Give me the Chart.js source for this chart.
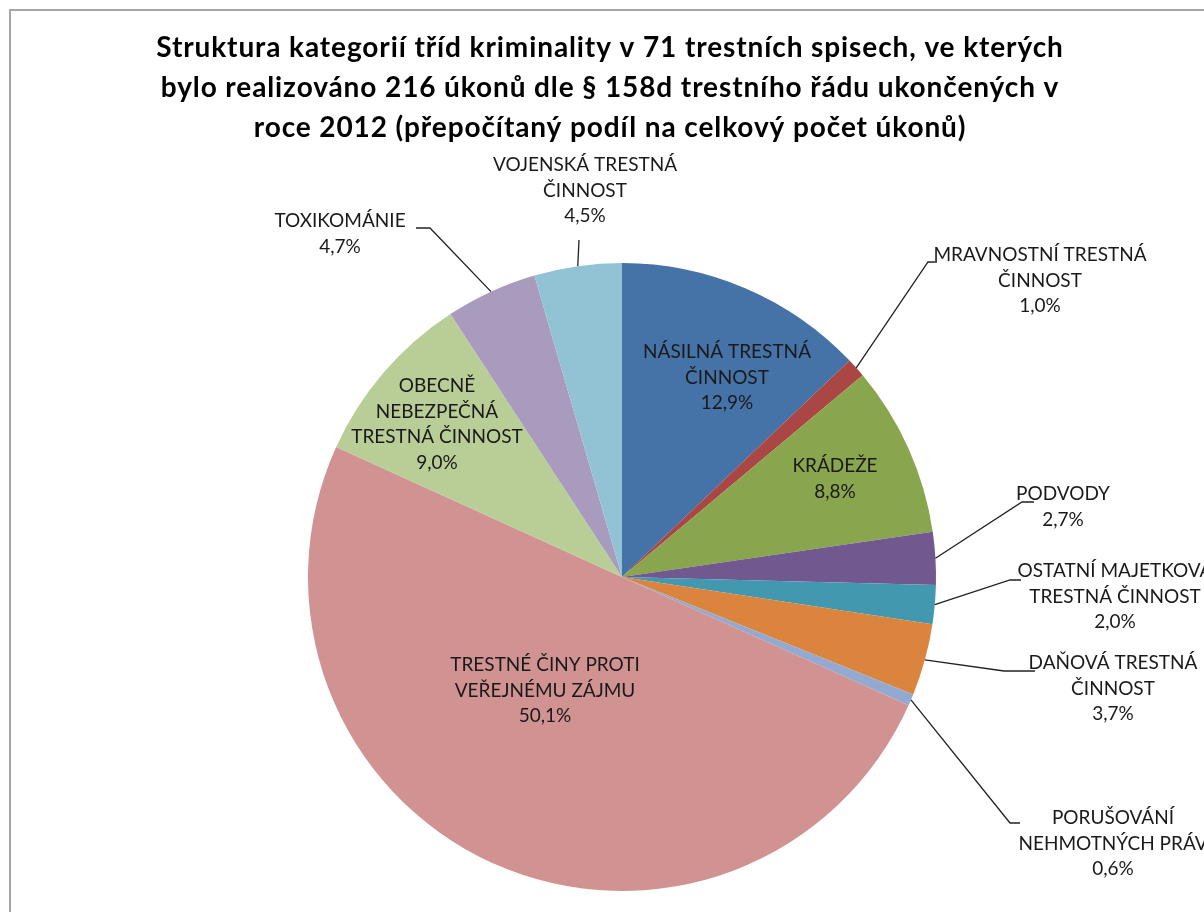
<!DOCTYPE html>
<html>
<head>
<meta charset="utf-8">
<script src="https://cdn.jsdelivr.net/npm/chart.js@4/dist/chart.umd.min.js"></script>
<style>
  html, body { margin: 0; padding: 0; background: #fff; overflow: hidden; }
  #frame { position: absolute; left: 9px; top: 9px; width: 1300px; height: 1000px; border: 2px solid #a6a6a6; }
  #wrap { position: absolute; left: 0; top: 0; width: 1204px; height: 912px; }
</style>
</head>
<body>
<div id="frame"></div>
<div id="wrap"><canvas id="chart1"></canvas></div>
<script>
const categories = [
  ["NÁSILNÁ TRESTNÁ", "ČINNOST"],
  ["MRAVNOSTNÍ TRESTNÁ", "ČINNOST"],
  ["KRÁDEŽE"],
  ["PODVODY"],
  ["OSTATNÍ MAJETKOVÁ", "TRESTNÁ ČINNOST"],
  ["DAŇOVÁ TRESTNÁ", "ČINNOST"],
  ["PORUŠOVÁNÍ", "NEHMOTNÝCH PRÁV"],
  ["TRESTNÉ ČINY PROTI", "VEŘEJNÉMU ZÁJMU"],
  ["OBECNĚ", "NEBEZPEČNÁ", "TRESTNÁ ČINNOST"],
  ["TOXIKOMÁNIE"],
  ["VOJENSKÁ TRESTNÁ", "ČINNOST"],
];
const shares = [12.9, 1.0, 8.8, 2.7, 2.0, 3.7, 0.6, 50.1, 9.0, 4.7, 4.5];
const colors = ["#4572A7", "#AA4643", "#89A54E", "#71588F", "#4198AF", "#DB843D",
                "#93A9CF", "#D19392", "#B9CD96", "#A99BBD", "#92C3D5"];
const titleLines = [
  "Struktura kategorií tříd kriminality v 71 trestních spisech, ve kterých",
  "bylo realizováno 216 úkonů dle § 158d trestního řádu ukončených v",
  "roce 2012 (přepočítaný podíl na celkový počet úkonů)",
];

// label placement: x = text centre, y = first line, elbow = leader bend, end = leader end
const labelPos = [
  { x: 727, y: 352 },
  { x: 1040, y: 255, elbow: [928, 262], end: 937 },
  { x: 835, y: 466 },
  { x: 1063, y: 494, elbow: [1022, 502], end: 1034 },
  { x: 1115, y: 571, elbow: [1010, 580], end: 1021 },
  { x: 1113, y: 663, elbow: [1004, 671], end: 1035 },
  { x: 1113, y: 818, elbow: [1010, 823], end: 1020 },
  { x: 545, y: 665 },
  { x: 437, y: 386 },
  { x: 340, y: 221, elbow: [430, 228], end: 416 },
  { x: 585, y: 165, elbow: [579, 240], end: 579 },
];

const FONT = "Lato, 'Noto Sans', sans-serif";
const lineH = 25.5;

const labelPlugin = {
  id: "pieLabels",
  afterDraw(chart) {
    const ctx = chart.ctx;
    ctx.save();
    // title
    ctx.fillStyle = "#000";
    ctx.font = "bold 28px " + FONT;
    ctx.letterSpacing = "0.9px";
    ctx.textAlign = "center";
    ctx.textBaseline = "middle";
    titleLines.forEach((t, i) => ctx.fillText(t, 610, 48 + i * 40));
    ctx.letterSpacing = "0px";

    const meta = chart.getDatasetMeta(0);
    meta.data.forEach((arc, i) => {
      const p = labelPos[i];
      const lines = categories[i].concat([shares[i].toFixed(1).replace(".", ",") + "%"]);
      if (p.elbow) {
        const mid = (arc.startAngle + arc.endAngle) / 2;
        const sx = arc.x + arc.outerRadius * Math.cos(mid);
        const sy = arc.y + arc.outerRadius * Math.sin(mid);
        ctx.strokeStyle = "#222";
        ctx.lineWidth = 1.3;
        ctx.beginPath();
        ctx.moveTo(sx, sy);
        ctx.lineTo(p.elbow[0], p.elbow[1]);
        ctx.lineTo(p.end, p.elbow[1]);
        ctx.stroke();
      }
      ctx.fillStyle = "#1a1a1a";
      ctx.font = "19px " + FONT;
      lines.forEach((t, k) => ctx.fillText(t, p.x, p.y + k * lineH));
    });
    ctx.restore();
  },
};

const chart1 = document.getElementById("chart1").getContext("2d");
const pieChart = new Chart(chart1, {
  type: "pie",
  data: {
    labels: categories.map((c) => c.join(" ")),
    datasets: [
      {
        data: shares,
        backgroundColor: colors,
        borderWidth: 0,
      },
    ],
  },
  plugins: [labelPlugin],
  options: {
    responsive: true,
    maintainAspectRatio: false,
    animation: false,
    layout: { padding: { left: 308, right: 268, top: 263, bottom: 21 } },
    plugins: {
      legend: { display: false },
      title: { display: false },
      tooltip: { enabled: false },
    },
  },
});
</script>
</body>
</html>
